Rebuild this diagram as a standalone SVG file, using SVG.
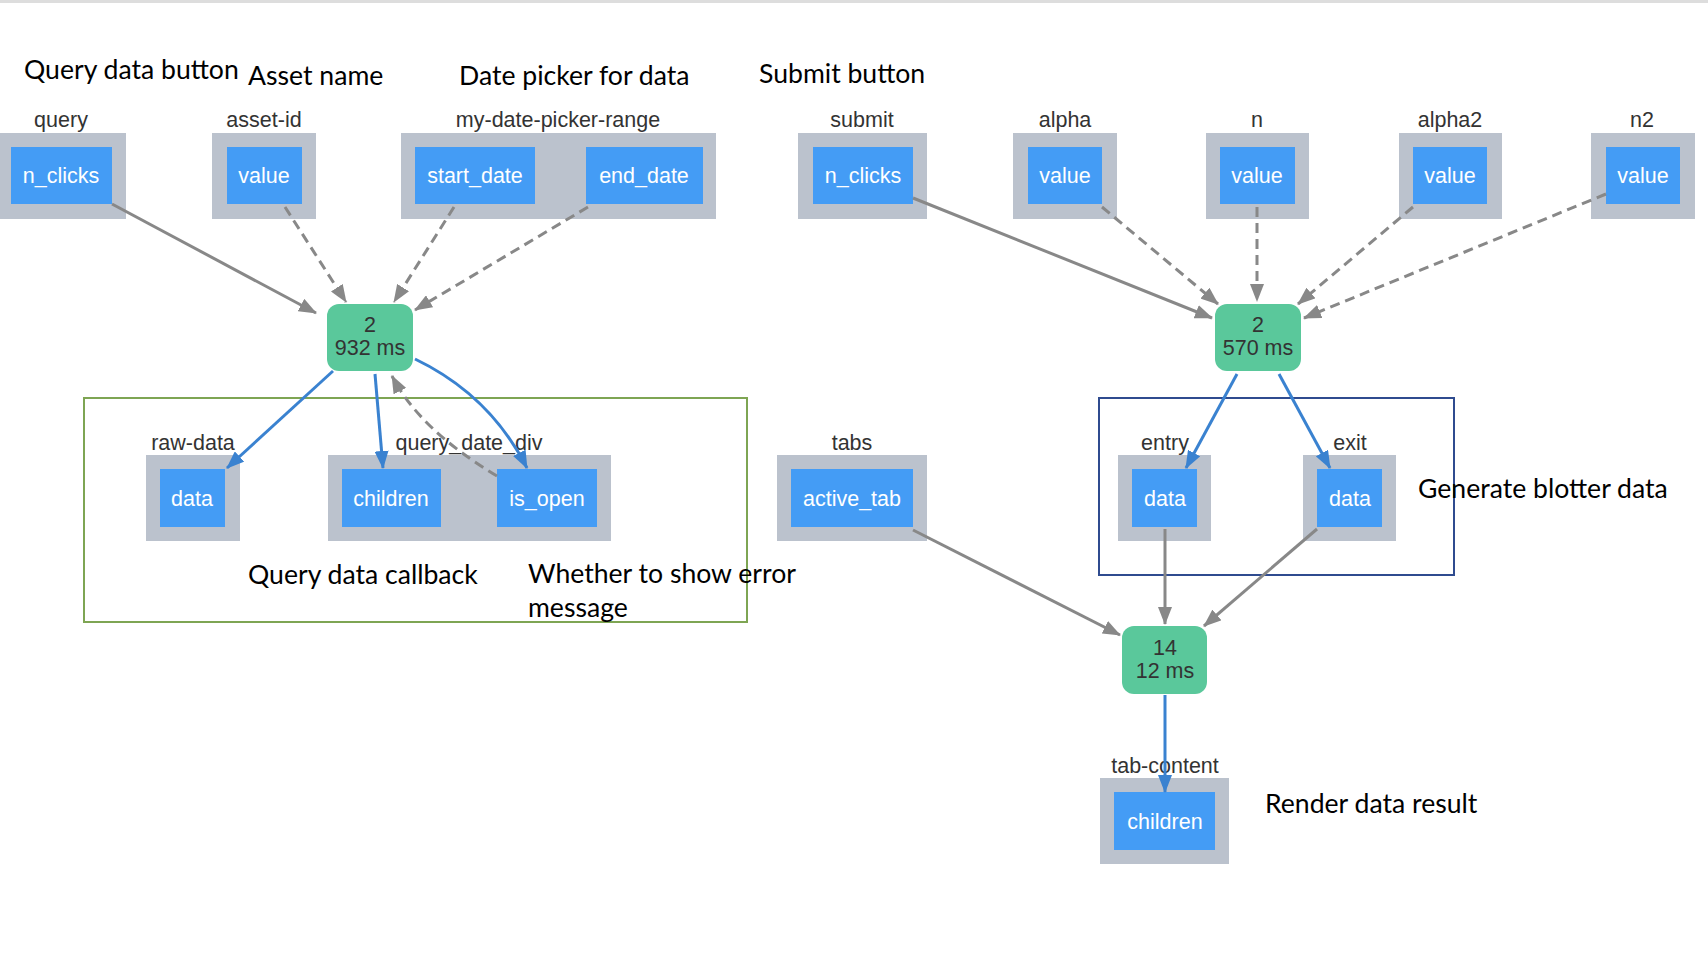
<svg xmlns="http://www.w3.org/2000/svg" width="1708" height="962" viewBox="0 0 1708 962">
<defs>
<marker id="ag" markerUnits="userSpaceOnUse" markerWidth="18" markerHeight="14" refX="17" refY="7" orient="auto"><path d="M0,0 L18,7 L0,14 z" fill="#888"/></marker>
<marker id="ab" markerUnits="userSpaceOnUse" markerWidth="18" markerHeight="14" refX="17" refY="7" orient="auto"><path d="M0,0 L18,7 L0,14 z" fill="#3a82d0"/></marker>
<style>
.o{fill:#bbc2cd}
.i{fill:#449cf5}
.it{font-family:"Liberation Sans",Arial,sans-serif;font-size:21.5px;fill:#fff;text-anchor:middle}
.lb{font-family:"Liberation Sans",Arial,sans-serif;font-size:21.5px;fill:#333;text-anchor:middle}
.cb{fill:#5ac89b}
.ct{font-family:"Liberation Sans",Arial,sans-serif;font-size:21.5px;fill:#333;text-anchor:middle}
.an{font-family:Lato,"Open Sans",sans-serif;font-size:26.6px;fill:#000}
.eg{stroke:#888;stroke-width:3;fill:none;marker-end:url(#ag)}
.ed{stroke:#888;stroke-width:3;fill:none;stroke-dasharray:10 6;marker-end:url(#ag)}
.eb{stroke:#3a82d0;stroke-width:3;fill:none;marker-end:url(#ab)}
</style>
</defs>
<rect x="0" y="0" width="1708" height="962" fill="#fff"/>
<rect x="0" y="0" width="1708" height="3" fill="#ddd"/>

<g id="groups">
<rect x="84" y="398" width="663" height="224" fill="none" stroke="#7ea553" stroke-width="2"/>
<rect x="1099" y="398" width="355" height="177" fill="none" stroke="#2f4b8f" stroke-width="2"/>
</g>

<g id="annotations">
<text class="an" x="24" y="79">Query data button</text>
<text class="an" x="248" y="85">Asset name</text>
<text class="an" x="459" y="85">Date picker for data</text>
<text class="an" x="759" y="83">Submit button</text>
<text class="an" x="248" y="584">Query data callback</text>
<text class="an" x="528" y="583">Whether to show error</text>
<text class="an" x="528" y="617">message</text>
<text class="an" x="1418" y="498">Generate blotter data</text>
<text class="an" x="1265" y="813">Render data result</text>
</g>

<g id="node-query">
<text class="lb" x="61" y="127">query</text>
<rect class="o" x="0" y="133" width="126" height="86"/>
<rect class="i" x="11" y="147" width="101" height="57"/>
<text class="it" x="61" y="183">n_clicks</text>
</g>
<g id="node-asset-id">
<text class="lb" x="264" y="127">asset-id</text>
<rect class="o" x="212" y="133" width="104" height="86"/>
<rect class="i" x="227" y="147" width="75" height="57"/>
<text class="it" x="264" y="183">value</text>
</g>
<g id="node-date-picker">
<text class="lb" x="558" y="127">my-date-picker-range</text>
<rect class="o" x="401" y="133" width="315" height="86"/>
<rect class="i" x="415" y="147" width="120" height="57"/>
<text class="it" x="475" y="183">start_date</text>
<rect class="i" x="586" y="147" width="117" height="57"/>
<text class="it" x="644" y="183">end_date</text>
</g>
<g id="node-submit">
<text class="lb" x="862" y="127">submit</text>
<rect class="o" x="798" y="133" width="129" height="86"/>
<rect class="i" x="813" y="147" width="100" height="57"/>
<text class="it" x="863" y="183">n_clicks</text>
</g>
<g id="node-alpha">
<text class="lb" x="1065" y="127">alpha</text>
<rect class="o" x="1013" y="133" width="104" height="86"/>
<rect class="i" x="1028" y="147" width="74" height="57"/>
<text class="it" x="1065" y="183">value</text>
</g>
<g id="node-n">
<text class="lb" x="1257" y="127">n</text>
<rect class="o" x="1206" y="133" width="103" height="86"/>
<rect class="i" x="1220" y="147" width="75" height="57"/>
<text class="it" x="1257" y="183">value</text>
</g>
<g id="node-alpha2">
<text class="lb" x="1450" y="127">alpha2</text>
<rect class="o" x="1399" y="133" width="103" height="86"/>
<rect class="i" x="1413" y="147" width="74" height="57"/>
<text class="it" x="1450" y="183">value</text>
</g>
<g id="node-n2">
<text class="lb" x="1642" y="127">n2</text>
<rect class="o" x="1591" y="133" width="104" height="86"/>
<rect class="i" x="1606" y="147" width="74" height="57"/>
<text class="it" x="1643" y="183">value</text>
</g>

<g id="cb-A">
<rect class="cb" x="327" y="304" width="86" height="67" rx="12"/>
<text class="ct" x="370" y="332">2</text>
<text class="ct" x="370" y="355">932 ms</text>
</g>
<g id="cb-B">
<rect class="cb" x="1215" y="304" width="86" height="67" rx="12"/>
<text class="ct" x="1258" y="332">2</text>
<text class="ct" x="1258" y="355">570 ms</text>
</g>
<g id="cb-C">
<rect class="cb" x="1122" y="626" width="85" height="68" rx="12"/>
<text class="ct" x="1165" y="655">14</text>
<text class="ct" x="1165" y="678">12 ms</text>
</g>

<g id="node-raw-data">
<text class="lb" x="193" y="450">raw-data</text>
<rect class="o" x="146" y="455" width="94" height="86"/>
<rect class="i" x="160" y="469" width="65" height="58"/>
<text class="it" x="192" y="506">data</text>
</g>
<g id="node-query-date-div">
<text class="lb" x="469" y="450">query_date_div</text>
<rect class="o" x="328" y="455" width="283" height="86"/>
<rect class="i" x="342" y="469" width="99" height="58"/>
<text class="it" x="391" y="506">children</text>
<rect class="i" x="497" y="469" width="100" height="58"/>
<text class="it" x="547" y="506">is_open</text>
</g>
<g id="node-tabs">
<text class="lb" x="852" y="450">tabs</text>
<rect class="o" x="777" y="455" width="150" height="86"/>
<rect class="i" x="791" y="469" width="122" height="58"/>
<text class="it" x="852" y="506">active_tab</text>
</g>
<g id="node-entry">
<text class="lb" x="1165" y="450">entry</text>
<rect class="o" x="1118" y="455" width="93" height="86"/>
<rect class="i" x="1132" y="469" width="65" height="58"/>
<text class="it" x="1165" y="506">data</text>
</g>
<g id="node-exit">
<text class="lb" x="1350" y="450">exit</text>
<rect class="o" x="1303" y="455" width="93" height="86"/>
<rect class="i" x="1317" y="469" width="65" height="58"/>
<text class="it" x="1350" y="506">data</text>
</g>
<g id="node-tab-content">
<text class="lb" x="1165" y="773">tab-content</text>
<rect class="o" x="1100" y="778" width="129" height="86"/>
<rect class="i" x="1114" y="792" width="101" height="58"/>
<text class="it" x="1165" y="829">children</text>
</g>

<g id="connectors">
<line class="eg" x1="112" y1="204" x2="316" y2="313"/>
<line class="ed" x1="285" y1="207" x2="346" y2="302"/>
<line class="ed" x1="454" y1="207" x2="394" y2="302"/>
<line class="ed" x1="588" y1="207" x2="415" y2="310"/>
<line class="eg" x1="913" y1="198" x2="1212" y2="318"/>
<line class="ed" x1="1102" y1="207" x2="1218" y2="304"/>
<line class="ed" x1="1257" y1="207" x2="1257" y2="301"/>
<line class="ed" x1="1413" y1="207" x2="1298" y2="304"/>
<line class="ed" x1="1606" y1="194" x2="1304" y2="318"/>
<line class="eb" x1="333" y1="371" x2="227" y2="468"/>
<line class="eb" x1="375" y1="374" x2="383" y2="468"/>
<path class="eb" d="M415,359 Q490,395 527,468"/>
<path class="ed" d="M497,476 Q420,430 392,376"/>
<line class="eb" x1="1237" y1="374" x2="1186" y2="468"/>
<line class="eb" x1="1279" y1="374" x2="1330" y2="468"/>
<line class="eg" x1="913" y1="530" x2="1120" y2="635"/>
<line class="eg" x1="1165" y1="529" x2="1165" y2="624"/>
<line class="eg" x1="1317" y1="529" x2="1204" y2="626"/>
<line class="eb" x1="1165" y1="695" x2="1165" y2="792"/>
</g>
</svg>
